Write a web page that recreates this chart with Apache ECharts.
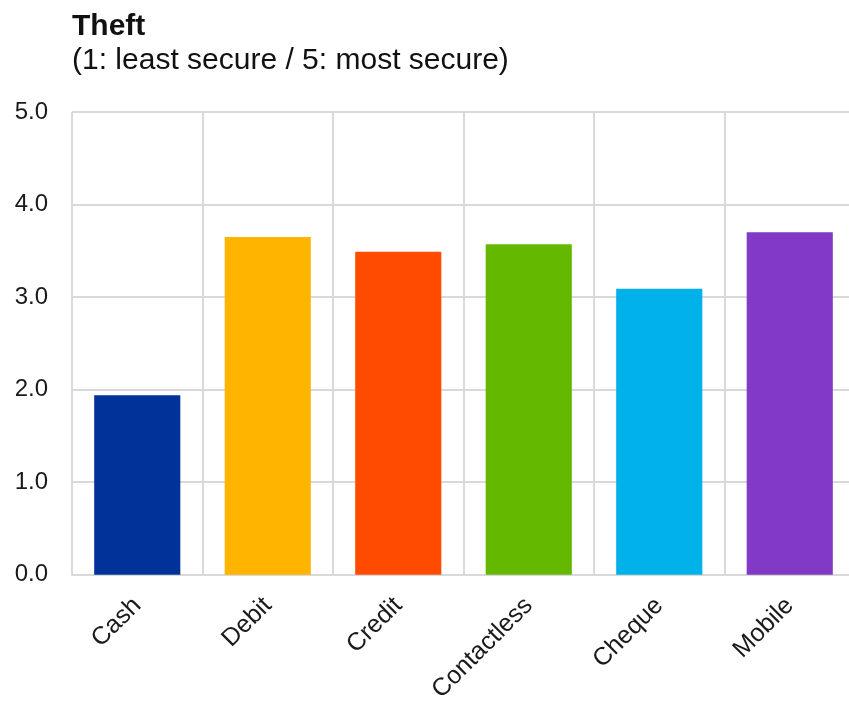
<!DOCTYPE html>
<html><head><meta charset="utf-8">
<script src="https://cdn.jsdelivr.net/npm/echarts@6/dist/echarts.min.js"></script>
<style>html,body{margin:0;padding:0;background:#fff;overflow:hidden;width:849px;height:705px}#c{width:862px;height:705px}</style>
</head><body><div id="c"></div>
<script>
const categories = ['Cash', 'Debit', 'Credit', 'Contactless', 'Cheque', 'Mobile'];
const values = [1.94, 3.65, 3.49, 3.57, 3.09, 3.70];
const colors = ['#003299', '#FFB400', '#FF4B00', '#65B800', '#00B1EA', '#8139C6'];
const yTicks = [0, 1, 2, 3, 4, 5];

const chart = echarts.init(document.getElementById('c'));
chart.setOption({
  animation: false,
  title: {
    text: 'Theft',
    subtext: '(1: least secure / 5: most secure)',
    left: 67, top: 7,
    itemGap: 4,
    textStyle: { fontFamily: 'Liberation Sans', fontWeight: 'bold', fontSize: 30, color: '#111' },
    subtextStyle: { fontFamily: 'Liberation Sans', fontSize: 30, color: '#111' }
  },
  grid: { left: 72, top: 112, width: 783, height: 469, containLabel: false },
  xAxis: {
    type: 'category',
    data: categories,
    axisTick: { show: false },
    axisLine: { show: true, lineStyle: { color: '#d9d9d9', width: 2 } },
    splitLine: { show: true, interval: 0, lineStyle: { color: '#d9d9d9', width: 2 } },
    axisLabel: { rotate: 45, interval: 0, margin: 27, fontFamily: 'Liberation Sans', fontSize: 25, color: '#1a1a1a' }
  },
  yAxis: {
    type: 'value',
    min: yTicks[0], max: yTicks[yTicks.length - 1], interval: 1,
    axisLine: { show: false },
    axisTick: { show: false },
    splitLine: { show: true, lineStyle: { color: '#d9d9d9', width: 2 } },
    axisLabel: { formatter: v => v.toFixed(1), margin: 24, fontFamily: 'Liberation Sans', fontSize: 24, color: '#1a1a1a' }
  },
  series: [{
    type: 'bar',
    data: values.map((v, i) => ({ value: v, itemStyle: { color: colors[i] } })),
    barCategoryGap: '34%'
  }]
});
</script></body></html>
